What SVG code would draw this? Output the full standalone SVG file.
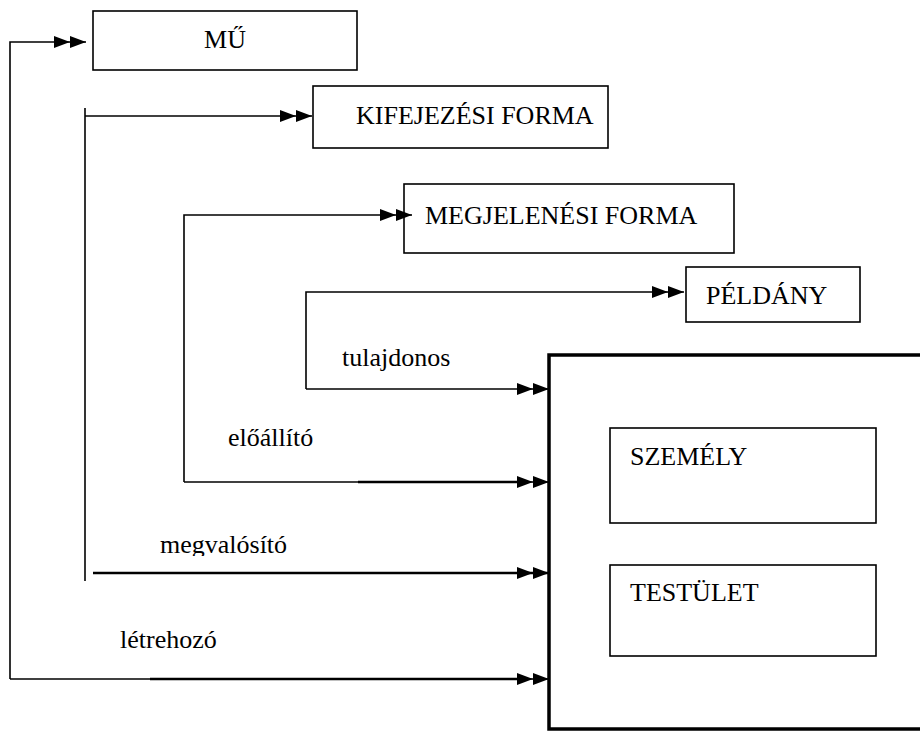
<svg xmlns="http://www.w3.org/2000/svg" width="920" height="731" viewBox="0 0 920 731">
<style>
.box{fill:#fff;stroke:#000;stroke-width:1.6}
.big{fill:#fff;stroke:#000;stroke-width:3.5}
.t{font-family:'Liberation Serif','Times New Roman','DejaVu Serif',serif;font-size:26px;fill:#000}
.c{fill:none;stroke:#000;stroke-width:1.6}
.k{fill:none;stroke:#000;stroke-width:2.6}
</style>
<defs>
<marker id="dbl" markerUnits="userSpaceOnUse" markerWidth="34" markerHeight="14" refX="32" refY="7" orient="auto">
<path d="M0,1 L16,7 L0,13 Z M16,1 L32,7 L16,13 Z" fill="#000"/>
</marker>
<clipPath id="clipM"><rect x="0" y="500" width="548" height="56"/></clipPath>
</defs>
<g id="big-box">
<rect class="big" x="549" y="355" width="400" height="374"/>
</g>
<g id="mu">
<rect class="box" x="93" y="11" width="264" height="59"/>
<text class="t" font-family="Liberation Serif, serif" x="225" y="48" text-anchor="middle">MŰ</text>
</g>
<g id="kifejezesi-forma">
<rect class="box" x="313" y="86" width="295" height="62"/>
<text class="t" font-family="Liberation Serif, serif" x="356" y="124">KIFEJEZÉSI FORMA</text>
</g>
<g id="megjelenesi-forma">
<rect class="box" x="404" y="184" width="330" height="69"/>
<text class="t" font-family="Liberation Serif, serif" x="425" y="224">MEGJELENÉSI FORMA</text>
</g>
<g id="peldany">
<rect class="box" x="686" y="267" width="174" height="55"/>
<text class="t" font-family="Liberation Serif, serif" x="706" y="304">PÉLDÁNY</text>
</g>
<g id="szemely">
<rect class="box" x="610" y="428" width="266" height="95"/>
<text class="t" font-family="Liberation Serif, serif" x="630" y="465">SZEMÉLY</text>
</g>
<g id="testulet">
<rect class="box" x="610" y="565" width="266" height="91"/>
<text class="t" font-family="Liberation Serif, serif" x="630" y="601">TESTÜLET</text>
</g>
<g id="connectors">
<path class="c" d="M10,679 V42 H86" marker-end="url(#dbl)"/>
<path class="c" d="M10,679 H549" marker-end="url(#dbl)"/>
<path class="k" d="M150,679 H520"/>
<path class="c" d="M85,108 V581"/>
<path class="c" d="M85,116 H312" marker-end="url(#dbl)"/>
<path class="k" d="M93,573 H549" marker-end="url(#dbl)"/>
<path class="c" d="M184,482 V215 H412" marker-end="url(#dbl)"/>
<path class="c" d="M184,482 H549" marker-end="url(#dbl)"/>
<path class="k" d="M358,482 H520"/>
<path class="c" d="M306,389 V292 H684" marker-end="url(#dbl)"/>
<path class="c" d="M306,389 H549" marker-end="url(#dbl)"/>
</g>
<g id="labels">
<text class="t" font-family="Liberation Serif, serif" x="342" y="366">tulajdonos</text>
<text class="t" font-family="Liberation Serif, serif" x="228" y="446">előállító</text>
<text class="t" font-family="Liberation Serif, serif" x="160" y="553" clip-path="url(#clipM)">megvalósító</text>
<text class="t" font-family="Liberation Serif, serif" x="120" y="648">létrehozó</text>
</g>
</svg>
